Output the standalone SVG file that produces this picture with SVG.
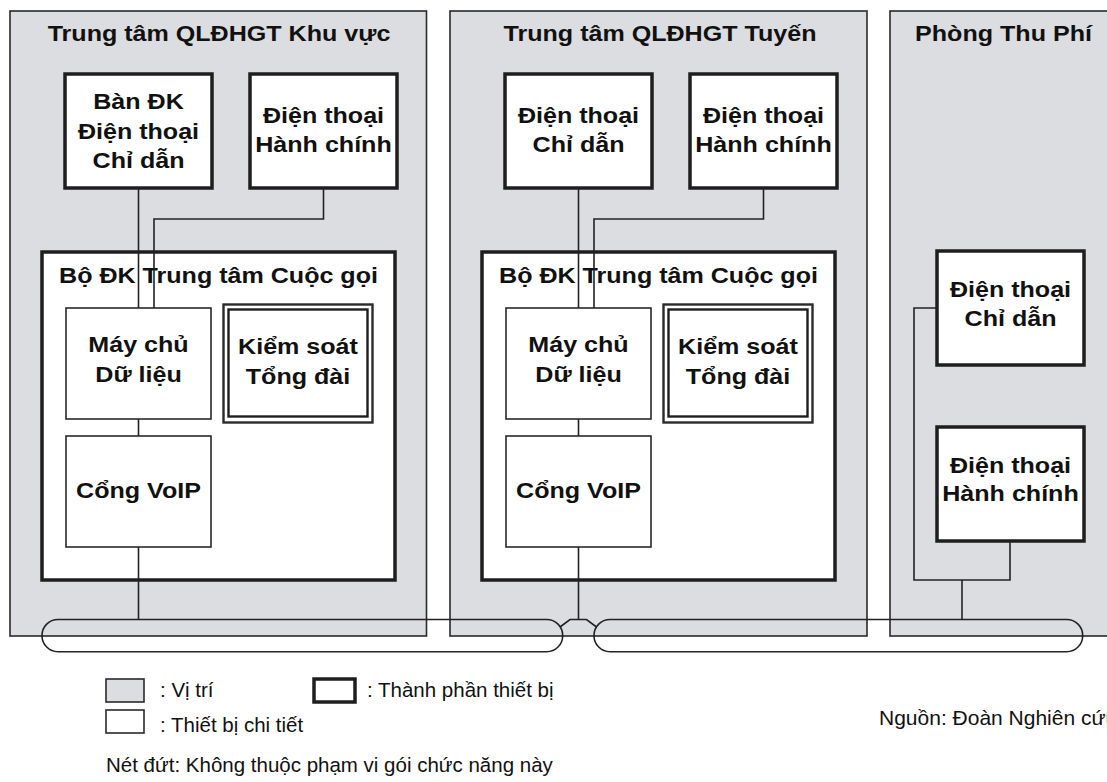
<svg xmlns="http://www.w3.org/2000/svg" width="1107" height="782" viewBox="0 0 1107 782">
<style>
.zone{fill:#dcdde0;stroke:#2a2a2a;stroke-width:1.6}
.thick{fill:#fff;stroke:#1e1e1e;stroke-width:3.5}
.thin{fill:#fff;stroke:#2a2a2a;stroke-width:1.6}
.dbl{fill:none;stroke:#1e1e1e;stroke-width:2.4}
.wire{fill:none;stroke:#222;stroke-width:1.6}
.b{font-family:"Liberation Sans",Arial,sans-serif;font-weight:bold;font-size:22px;fill:#111;text-anchor:middle}
.r{font-family:"Liberation Sans",Arial,sans-serif;font-size:20.5px;fill:#111}
</style>

<g id="zone-khuvuc">
<rect class="zone" x="10" y="11" width="416.5" height="625"/>
<text class="b" transform="translate(219,40.5) scale(1.14,1)">Trung tâm QLĐHGT Khu vực</text>
</g>
<g id="zone-tuyen">
<rect class="zone" x="450" y="11" width="417" height="625"/>
<text class="b" transform="translate(660,40.5) scale(1.14,1)">Trung tâm QLĐHGT Tuyến</text>
</g>
<g id="zone-thuphi">
<rect class="zone" x="890" y="11" width="240" height="625"/>
<text class="b" transform="translate(1003.5,40.5) scale(1.14,1)">Phòng Thu Phí</text>
</g>

<!-- Zone 1 nodes -->
<g id="kv-bandk">
<rect class="thick" x="65" y="74" width="147" height="114"/>
<text class="b" transform="translate(138.5,109) scale(1.14,1)">Bàn ĐK</text>
<text class="b" transform="translate(138.5,138.5) scale(1.14,1)">Điện thoại</text>
<text class="b" transform="translate(138.5,168) scale(1.14,1)">Chỉ dẫn</text>
</g>
<g id="kv-hanhchinh">
<rect class="thick" x="250" y="74" width="147" height="114"/>
<text class="b" transform="translate(323.5,123) scale(1.14,1)">Điện thoại</text>
<text class="b" transform="translate(323.5,152) scale(1.14,1)">Hành chính</text>
</g>
<g id="kv-bodk">
<rect class="thick" x="42" y="252" width="353" height="328"/>
<text class="b" transform="translate(218.5,283.3) scale(1.14,1)">Bộ ĐK Trung tâm Cuộc gọi</text>
</g>
<g id="kv-maychu">
<rect class="thin" x="66" y="308" width="145" height="111"/>
<text class="b" transform="translate(138.5,351.7) scale(1.14,1)">Máy chủ</text>
<text class="b" transform="translate(138.5,381.7) scale(1.14,1)">Dữ liệu</text>
</g>
<g id="kv-kiemsoat">
<rect class="thin" x="223.5" y="304.5" width="149" height="118" style="stroke-width:2.4"/>
<rect class="dbl" x="228.5" y="309.5" width="139" height="107"/>
<text class="b" transform="translate(298,354.3) scale(1.14,1)">Kiểm soát</text>
<text class="b" transform="translate(298,384.3) scale(1.14,1)">Tổng đài</text>
</g>
<g id="kv-voip">
<rect class="thin" x="66" y="436" width="145" height="111"/>
<text class="b" transform="translate(138.5,498.3) scale(1.14,1)">Cổng VoIP</text>
</g>

<!-- Zone 2 nodes -->
<g id="tu-chidan">
<rect class="thick" x="505" y="74" width="147" height="114"/>
<text class="b" transform="translate(578.5,123) scale(1.14,1)">Điện thoại</text>
<text class="b" transform="translate(578.5,152) scale(1.14,1)">Chỉ dẫn</text>
</g>
<g id="tu-hanhchinh">
<rect class="thick" x="690" y="74" width="147" height="114"/>
<text class="b" transform="translate(763.5,123) scale(1.14,1)">Điện thoại</text>
<text class="b" transform="translate(763.5,152) scale(1.14,1)">Hành chính</text>
</g>
<g id="tu-bodk">
<rect class="thick" x="482" y="252" width="353" height="328"/>
<text class="b" transform="translate(658.5,283.3) scale(1.14,1)">Bộ ĐK Trung tâm Cuộc gọi</text>
</g>
<g id="tu-maychu">
<rect class="thin" x="506" y="308" width="145" height="111"/>
<text class="b" transform="translate(578.5,351.7) scale(1.14,1)">Máy chủ</text>
<text class="b" transform="translate(578.5,381.7) scale(1.14,1)">Dữ liệu</text>
</g>
<g id="tu-kiemsoat">
<rect class="thin" x="663.5" y="304.5" width="149" height="118" style="stroke-width:2.4"/>
<rect class="dbl" x="668.5" y="309.5" width="139" height="107"/>
<text class="b" transform="translate(738,354.3) scale(1.14,1)">Kiểm soát</text>
<text class="b" transform="translate(738,384.3) scale(1.14,1)">Tổng đài</text>
</g>
<g id="tu-voip">
<rect class="thin" x="506" y="436" width="145" height="111"/>
<text class="b" transform="translate(578.5,498.3) scale(1.14,1)">Cổng VoIP</text>
</g>

<!-- Zone 3 nodes -->
<g id="tp-chidan">
<rect class="thick" x="937" y="251" width="147" height="114"/>
<text class="b" transform="translate(1010.5,297) scale(1.14,1)">Điện thoại</text>
<text class="b" transform="translate(1010.5,326) scale(1.14,1)">Chỉ dẫn</text>
</g>
<g id="tp-hanhchinh">
<rect class="thick" x="937" y="427" width="147" height="114"/>
<text class="b" transform="translate(1010.5,473) scale(1.14,1)">Điện thoại</text>
<text class="b" transform="translate(1010.5,501) scale(1.14,1)">Hành chính</text>
</g>

<g id="connectors">
<path class="wire" d="M138.5,188 V308"/>
<path class="wire" d="M323.5,188 V219 H154 V308"/>
<path class="wire" d="M138.5,419 V436"/>
<path class="wire" d="M138.5,547 V619.5"/>
<path class="wire" d="M578.5,188 V308"/>
<path class="wire" d="M763.5,188 V219 H594 V308"/>
<path class="wire" d="M578.5,419 V436"/>
<path class="wire" d="M578.5,547 V619.5"/>
<path class="wire" d="M560,627 L570,619.5 L586.5,619.5 L596.5,627"/>
<path class="wire" d="M937,308 H914 V580 H1010 V541"/>
<path class="wire" d="M962,580 V619.5"/>
</g>

<g id="bus">
<rect class="wire" x="42" y="619.5" width="520.7" height="32.2" rx="16" ry="16"/>
<rect class="wire" x="594" y="619.5" width="488.7" height="32.2" rx="16" ry="16"/>
</g>

<g id="legend">
<rect x="106" y="679" width="38" height="23" fill="#dcdde0" stroke="#2a2a2a" stroke-width="1.6"/>
<text class="r" x="160" y="697">: Vị trí</text>
<rect x="314" y="679" width="41" height="23" fill="#fff" stroke="#1e1e1e" stroke-width="3.5"/>
<text class="r" x="367" y="697">: Thành phần thiết bị</text>
<rect x="106" y="710" width="38" height="23" fill="#fff" stroke="#2a2a2a" stroke-width="1.6"/>
<text class="r" x="160" y="732">: Thiết bị chi tiết</text>
<text class="r" x="106" y="772">Nét đứt: Không thuộc phạm vi gói chức năng này</text>
</g>
<text class="r" x="879" y="725" style="font-size:21px">Nguồn: Đoàn Nghiên cứu</text>
</svg>
